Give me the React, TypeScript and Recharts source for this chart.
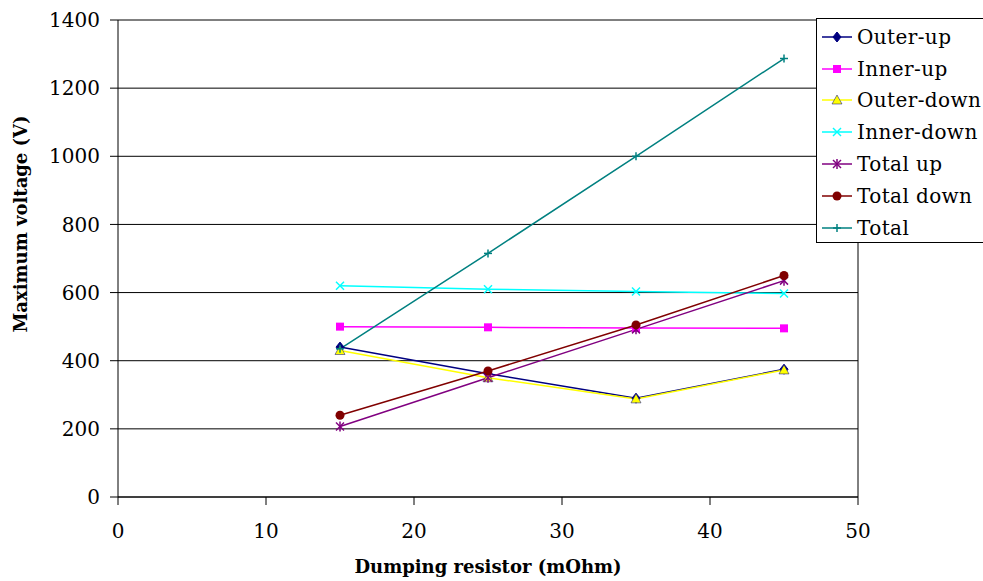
import { LineChart, Line, XAxis, YAxis, CartesianGrid, ReferenceLine } from 'recharts';

const resistance = [15, 25, 35, 45];
const outerUp = [440, 362, 290, 375];
const innerUp = [500, 498, 496, 495];
const outerDown = [430, 350, 288, 373];
const innerDown = [620, 610, 603, 597];
const totalUp = [207, 350, 492, 635];
const totalDown = [240, 370, 505, 650];
const total = [435, 715, 1000, 1287];

const xTicks = [0, 10, 20, 30, 40, 50];
const yTicks = [0, 200, 400, 600, 800, 1000, 1200, 1400];

const series = [
  { key: 'outerUp', name: 'Outer-up', color: '#000080', marker: 'diamond', values: outerUp },
  { key: 'innerUp', name: 'Inner-up', color: '#FF00FF', marker: 'square', values: innerUp },
  { key: 'outerDown', name: 'Outer-down', color: '#FFFF00', marker: 'triangle', values: outerDown },
  { key: 'innerDown', name: 'Inner-down', color: '#00FFFF', marker: 'x', values: innerDown },
  { key: 'totalUp', name: 'Total up', color: '#800080', marker: 'star', values: totalUp },
  { key: 'totalDown', name: 'Total down', color: '#800000', marker: 'circle', values: totalDown },
  { key: 'total', name: 'Total', color: '#008080', marker: 'plus', values: total },
];

const data = resistance.map((r, i) => {
  const row: Record<string, number> = { r };
  series.forEach((s) => {
    row[s.key] = s.values[i];
  });
  return row;
});

const font = '"DejaVu Serif", serif';

function Marker({ cx, cy, kind, color }: { cx: number; cy: number; kind: string; color: string }) {
  if (cx == null || cy == null) return null;
  switch (kind) {
    case 'diamond':
      return <polygon points={`${cx},${cy - 5} ${cx + 4},${cy} ${cx},${cy + 5} ${cx - 4},${cy}`} fill={color} stroke={color} />;
    case 'square':
      return <rect x={cx - 4} y={cy - 4} width={8} height={8} fill={color} />;
    case 'triangle':
      return <polygon points={`${cx},${cy - 5} ${cx + 5},${cy + 4} ${cx - 5},${cy + 4}`} fill={color} stroke="#000080" strokeWidth={0.5} />;
    case 'x':
      return (
        <g stroke={color} strokeWidth={1.5}>
          <line x1={cx - 4} y1={cy - 4} x2={cx + 4} y2={cy + 4} />
          <line x1={cx - 4} y1={cy + 4} x2={cx + 4} y2={cy - 4} />
        </g>
      );
    case 'star':
      return (
        <g stroke={color} strokeWidth={1.5}>
          <line x1={cx - 4} y1={cy - 4} x2={cx + 4} y2={cy + 4} />
          <line x1={cx - 4} y1={cy + 4} x2={cx + 4} y2={cy - 4} />
          <line x1={cx} y1={cy - 5} x2={cx} y2={cy + 5} />
        </g>
      );
    case 'circle':
      return <circle cx={cx} cy={cy} r={4.5} fill={color} />;
    case 'plus':
      return (
        <g stroke={color} strokeWidth={1.5}>
          <line x1={cx - 4} y1={cy} x2={cx + 4} y2={cy} />
          <line x1={cx} y1={cy - 4} x2={cx} y2={cy + 4} />
        </g>
      );
    default:
      return null;
  }
}

function LegendBox() {
  return (
    <div
      style={{
        position: 'absolute',
        left: 816,
        top: 18,
        width: 200,
        height: 225,
        boxSizing: 'border-box',
        border: '1px solid #000',
        background: '#fff',
        padding: '2px 0 0 5px',
        fontFamily: font,
        fontSize: 20,
        color: '#000',
      }}
    >
      {series.map((s) => (
        <div key={s.key} style={{ display: 'flex', alignItems: 'center', height: 31.8, whiteSpace: 'nowrap' }}>
          <svg width={30} height={14} style={{ marginRight: 5 }}>
            <line x1={0} y1={7} x2={30} y2={7} stroke={s.color} strokeWidth={1.5} />
            <Marker cx={15} cy={7} kind={s.marker} color={s.color} />
          </svg>
          <span style={{ letterSpacing: 0.4 }}>{s.name}</span>
        </div>
      ))}
    </div>
  );
}

export default function App() {
  return (
    <div style={{ position: 'absolute', left: 0, top: 0, width: 983, height: 581, overflow: 'hidden', background: '#fff' }}>
      <LineChart width={983} height={581} data={data} margin={{ top: 20, right: 125, left: 0, bottom: 0 }}>
        <CartesianGrid vertical={false} stroke="#000" strokeWidth={1} />
        <XAxis
          dataKey="r"
          type="number"
          domain={[0, 50]}
          ticks={xTicks}
          height={84}
          tickSize={8}
          tickMargin={19}
          stroke="#000"
          tick={{ fill: '#000', fontSize: 20, fontFamily: font }}
          label={() => (
            <text x={488} y={573} textAnchor="middle" fontFamily={font} fontSize={18} fontWeight="bold" fill="#000">
              Dumping resistor (mOhm)
            </text>
          )}
        />
        <YAxis
          type="number"
          domain={[0, 1400]}
          ticks={yTicks}
          width={118}
          tickSize={8}
          tickMargin={10}
          stroke="#000"
          tick={{ fill: '#000', fontSize: 20, fontFamily: font }}
          label={() => (
            <text
              x={27}
              y={224}
              transform="rotate(-90 27 224)"
              textAnchor="middle"
              fontFamily={font}
              fontSize={18}
              fontWeight="bold"
              fill="#000"
            >
              Maximum voltage (V)
            </text>
          )}
        />
        <ReferenceLine x={50} stroke="#000" />
        {series.map((s) => (
          <Line
            key={s.key}
            dataKey={s.key}
            name={s.name}
            stroke={s.color}
            strokeWidth={1.5}
            isAnimationActive={false}
            dot={(p: any) => <Marker key={`${s.key}-${p.index}`} cx={p.cx} cy={p.cy} kind={s.marker} color={s.color} />}
            activeDot={false}
          />
        ))}
      </LineChart>
      <LegendBox />
    </div>
  );
}
